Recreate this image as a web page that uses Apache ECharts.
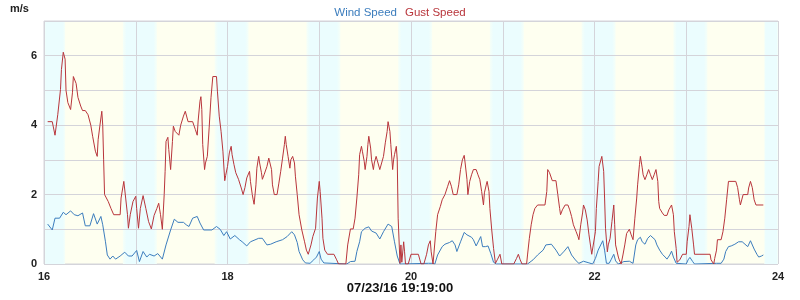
<!DOCTYPE html>
<html><head><meta charset="utf-8">
<script src="https://cdn.jsdelivr.net/npm/echarts@6/dist/echarts.min.js"></script>
<style>html,body{margin:0;padding:0;background:#fff}#c{width:800px;height:300px}</style>
</head><body><div id="c"></div>
<script>
// hours (decimal) of each reading, and values in m/s
const windTimes=[16.04,16.09,16.12,16.17,16.21,16.24,16.29,16.33,16.37,16.42,16.45,16.50,16.54,16.58,16.62,16.64,16.67,16.69,16.72,16.75,16.78,16.83,16.88,16.92,16.96,17.01,17.04,17.08,17.12,17.15,17.20,17.24,17.29,17.33,17.38,17.42,17.46,17.52,17.55,17.58,17.62,17.67,17.70,17.74,17.83,17.88,17.92,17.96,17.99,18.03,18.08,18.13,18.16,18.21,18.25,18.34,18.38,18.43,18.47,18.53,18.60,18.65,18.70,18.73,18.76,18.78,18.82,18.85,18.90,18.94,18.97,19.00,19.02,19.05,19.06,19.30,19.34,19.39,19.41,19.44,19.46,19.50,19.54,19.57,19.62,19.66,19.70,19.75,19.79,19.82,19.85,19.88,20.19,20.23,20.26,20.29,20.34,20.37,20.42,20.45,20.48,20.50,20.54,20.58,20.61,20.66,20.68,20.71,20.76,20.78,20.81,20.84,20.87,20.90,20.93,21.27,21.33,21.38,21.44,21.47,21.53,21.58,21.62,21.67,21.71,21.75,21.80,21.83,21.88,21.93,21.98,22.01,22.04,22.09,22.11,22.13,22.16,22.18,22.21,22.23,22.26,22.32,22.38,22.40,22.42,22.45,22.47,22.50,22.52,22.55,22.58,22.61,22.63,22.66,22.68,22.71,22.74,22.77,22.79,22.82,22.84,22.86,22.89,22.90,23.00,23.02,23.04,23.07,23.09,23.33,23.38,23.41,23.43,23.46,23.49,23.53,23.57,23.61,23.64,23.67,23.70,23.74,23.77,23.79,23.82,23.84];
const windValues=[1.15,0.98,1.32,1.32,1.49,1.42,1.53,1.42,1.39,1.47,1.1,1.1,1.45,1.15,1.37,1.13,0.64,0.26,0.14,0.23,0.14,0.23,0.34,0.23,0.23,0.39,0.07,0.36,0.2,0.28,0.23,0.3,0.14,0.55,0.98,1.29,1.2,1.2,1.13,1.08,1.32,1.37,1.18,0.98,0.98,1.08,1.0,0.82,0.93,0.72,0.82,0.7,0.64,0.52,0.64,0.74,0.74,0.55,0.57,0.64,0.7,0.79,0.93,0.84,0.62,0.36,0.12,0.03,0.02,0.12,0.2,0.36,0.14,0.03,0,0,0.07,0.08,0.36,0.64,0.93,1.03,1.07,0.95,0.89,0.72,0.93,1.15,1.08,0.64,0.23,0,0.02,0.02,0,0.26,0.5,0.57,0.62,0.67,0.55,0.36,0.64,0.91,0.84,0.77,0.7,0.52,0.79,0.5,0.5,0.52,0.3,0.05,0,0,0.12,0.26,0.4,0.55,0.57,0.4,0.23,0.37,0.5,0.26,0.09,0.02,0.08,0.04,0,0.16,0.4,0.67,0.4,0.02,0.02,0.12,0.28,0.09,0,0.07,0.08,0.04,0.02,0.55,0.7,0.77,0.64,0.57,0.74,0.82,0.86,0.7,0.55,0.4,0.28,0.2,0.14,0.26,0.37,0.2,0.02,0,0,0.12,0.19,0.07,0,0.02,0.02,0.14,0.36,0.5,0.52,0.57,0.64,0.64,0.57,0.5,0.67,0.43,0.28,0.2,0.23,0.26];
const gustTimes=[16.04,16.09,16.12,16.15,16.18,16.19,16.21,16.23,16.24,16.26,16.29,16.31,16.32,16.35,16.37,16.40,16.42,16.45,16.48,16.51,16.53,16.56,16.58,16.59,16.61,16.63,16.64,16.65,16.66,16.70,16.73,16.76,16.83,16.84,16.87,16.89,16.91,16.92,16.94,16.97,17.00,17.01,17.03,17.05,17.08,17.11,17.14,17.17,17.20,17.23,17.25,17.27,17.29,17.31,17.32,17.33,17.35,17.36,17.38,17.40,17.41,17.43,17.45,17.47,17.49,17.52,17.54,17.57,17.62,17.65,17.67,17.68,17.70,17.71,17.72,17.73,17.75,17.76,17.78,17.80,17.82,17.84,17.88,17.89,17.91,17.93,17.95,17.97,17.98,18.00,18.02,18.04,18.05,18.07,18.09,18.12,18.15,18.17,18.19,18.21,18.24,18.25,18.27,18.28,18.29,18.31,18.32,18.34,18.35,18.37,18.38,18.40,18.43,18.45,18.46,18.48,18.49,18.51,18.54,18.56,18.58,18.60,18.62,18.63,18.64,18.66,18.68,18.69,18.71,18.73,18.74,18.76,18.78,18.81,18.84,18.86,18.88,18.91,18.93,18.96,18.98,19.00,19.01,19.03,19.04,19.06,19.09,19.16,19.19,19.21,19.29,19.31,19.34,19.37,19.39,19.41,19.43,19.44,19.46,19.47,19.49,19.50,19.52,19.53,19.54,19.56,19.57,19.59,19.60,19.62,19.64,19.66,19.68,19.70,19.72,19.74,19.75,19.77,19.78,19.80,19.81,19.82,19.84,19.85,19.86,19.88,19.89,19.90,19.92,19.93,19.94,19.97,20.00,20.08,20.11,20.14,20.17,20.19,20.21,20.22,20.24,20.26,20.27,20.29,20.32,20.34,20.37,20.40,20.42,20.44,20.46,20.50,20.52,20.54,20.56,20.58,20.59,20.61,20.62,20.64,20.66,20.68,20.71,20.73,20.75,20.77,20.79,20.80,20.82,20.83,20.85,20.86,20.88,20.90,20.92,20.94,20.97,20.99,21.12,21.15,21.17,21.19,21.21,21.26,21.27,21.29,21.31,21.33,21.35,21.38,21.46,21.48,21.49,21.51,21.54,21.58,21.60,21.62,21.63,21.65,21.68,21.71,21.73,21.75,21.77,21.80,21.82,21.83,21.85,21.87,21.88,21.90,21.92,21.94,21.97,21.99,22.01,22.02,22.04,22.05,22.07,22.08,22.10,22.11,22.12,22.14,22.15,22.17,22.19,22.21,22.22,22.23,22.26,22.27,22.29,22.31,22.33,22.35,22.38,22.40,22.42,22.44,22.46,22.47,22.49,22.50,22.52,22.53,22.55,22.57,22.59,22.61,22.63,22.65,22.67,22.69,22.70,22.71,22.74,22.76,22.79,22.81,22.84,22.86,22.87,22.89,22.90,22.92,22.93,22.96,23.00,23.01,23.03,23.04,23.06,23.08,23.09,23.26,23.27,23.30,23.31,23.33,23.34,23.38,23.40,23.42,23.44,23.46,23.54,23.56,23.58,23.59,23.62,23.67,23.68,23.70,23.72,23.74,23.76,23.84];
const gustValues=[4.1,4.1,3.71,4.3,5.03,5.6,6.1,5.9,5.0,4.65,4.45,4.93,5.4,5.2,4.8,4.55,4.42,4.42,4.3,4.0,3.68,3.25,3.1,3.58,4.0,4.4,4.0,3.0,2.0,1.8,1.6,1.42,1.42,1.9,2.38,1.9,1.42,1.03,1.42,1.8,1.95,1.6,1.03,1.6,1.97,1.6,1.22,1.01,1.4,1.6,1.75,1.42,1.0,2.0,2.67,3.53,3.65,3.3,2.72,3.53,3.97,3.82,3.8,3.71,4.0,4.26,4.4,4.1,4.1,3.87,3.71,4.12,4.69,4.82,4.45,3.44,2.72,2.91,3.1,3.92,4.79,5.4,5.4,4.98,4.26,3.82,3.25,2.4,2.55,2.81,3.2,3.39,3.15,2.87,2.63,2.44,2.19,2.0,2.2,2.48,2.67,2.38,2.0,1.85,1.72,2.28,2.76,3.1,2.91,2.63,2.44,2.58,2.81,3.05,3.1,2.72,2.28,2.0,2.0,2.33,2.67,3.05,3.44,3.68,3.44,3.1,2.76,3.0,3.1,2.91,2.53,2.0,1.42,0.98,0.64,0.4,0.28,0.55,0.79,1.03,1.9,2.38,2.09,1.32,0.74,0.4,0.28,0.28,0.12,0,0,0.55,1.01,1.01,1.32,1.9,2.57,3.15,3.39,3.25,2.96,2.72,3.1,3.44,3.68,3.34,3.0,2.72,2.91,3.1,2.91,2.72,2.91,3.1,3.49,3.82,4.1,3.82,3.44,2.72,3.0,3.15,3.39,3.0,1.32,0.02,0.55,0.05,0.64,0.35,0,0,0.28,0.28,0,0,0.28,0.55,0.67,0.35,0,0,0.93,1.42,1.66,1.85,2.0,2.24,2.4,2.24,2.0,2.0,2.28,2.72,3.0,3.13,2.91,2.44,2.0,2.38,2.57,2.72,2.72,2.57,2.43,2.09,1.7,2.05,2.28,2.38,2.09,1.6,0.98,0.45,0.02,0.12,0.28,0,0,0.16,0.28,0.12,0,0,0.26,0.74,1.13,1.42,1.6,1.7,1.7,2.09,2.72,2.63,2.4,2.4,2.0,1.6,1.42,1.56,1.7,1.7,1.56,1.37,1.13,0.93,0.79,0.7,1.13,1.47,1.7,1.56,1.27,0.84,0.28,0.28,0.93,1.6,2.38,2.81,2.77,3.1,2.67,1.9,1.03,0.35,0.55,0.74,1.22,1.7,1.13,0.55,0.2,0.12,0,0.26,0.55,0.88,1.0,0.84,0.7,1.32,1.9,2.28,2.86,3.1,2.77,2.57,2.43,2.57,2.72,2.57,2.43,2.57,2.72,2.38,1.8,1.6,1.47,1.4,1.4,1.56,1.7,1.42,0.93,0.45,0.05,0,0.12,0.28,0.28,0.64,1.08,1.42,1.03,0.55,0.28,0.28,0.12,0,0.16,0.4,0.7,0.7,0.93,1.32,1.85,2.38,2.38,2.2,1.85,1.7,2.0,2.0,2.19,2.38,2.2,1.85,1.7,1.7];
// background band spans (hours)
const cyanBands=[[16,16.23],[16.86,17.23],[17.86,18.23],[18.86,19.23],[19.86,20.23],[20.86,21.23],[21.86,22.23],[22.86,23.23],[23.85,24]];
const seriesNames=['Wind Speed','Gust Speed'];
const xTitle='07/23/16 19:19:00';
const yUnit='m/s';

const zip=(t,v)=>t.map((x,i)=>[x,v[i]]);
const bandGrad={type:'linear',x:0,y:0,x2:1,y2:0,colorStops:[
  {offset:0,color:'#f6fff7'},{offset:0.1,color:'#ebfdfe'},{offset:0.9,color:'#ebfdfe'},{offset:1,color:'#f6fff7'}]};
const chart=echarts.init(document.getElementById('c'),null,{renderer:'canvas'});
const lbl={color:'#222',fontWeight:'bold',fontSize:11,fontFamily:'Liberation Sans, Arial, sans-serif'};
chart.setOption({
  animation:false,
  backgroundColor:'#fff',
  legend:{data:[{name:seriesNames[0],textStyle:{color:'#3c7dbd'}},{name:seriesNames[1],textStyle:{color:'#b8353b'}}],
    top:1,left:'center',itemWidth:0,itemHeight:14,itemGap:8,icon:'rect',
    textStyle:{fontSize:11.5,fontFamily:'Liberation Sans, Arial, sans-serif',padding:[0,0,0,-5]},selectedMode:false},
  grid:{left:44,right:22,top:21,bottom:36,show:true,backgroundColor:'#fefff0',borderColor:'#d4d4da',borderWidth:1},
  xAxis:{type:'value',min:16,max:24,interval:1,z:2,
    axisLine:{show:false},axisTick:{show:false},
    axisLabel:Object.assign({margin:7,formatter:v=>v%2===0?String(v):''},lbl),
    splitLine:{show:true,lineStyle:{color:'#d4d4da',width:1}}},
  yAxis:{type:'value',min:0,max:7,interval:1,z:2,
    axisLine:{show:false},axisTick:{show:false},
    axisLabel:Object.assign({margin:7,formatter:v=>v%2===0?String(v):''},lbl),
    splitLine:{show:true,lineStyle:{color:'#d4d4da',width:1}}},
  graphic:[
    {type:'text',left:10,top:3,z:10,style:{text:yUnit,fill:'#222',font:'bold 11px "Liberation Sans", Arial, sans-serif'}},
    {type:'text',left:'center',top:282,z:10,style:{text:xTitle,fill:'#111',font:'bold 13px "Liberation Sans", Arial, sans-serif'}}
  ],
  series:[
    {name:'bands',type:'line',data:[],z:1,silent:true,
      markArea:{silent:true,itemStyle:{color:bandGrad},data:cyanBands.map(b=>[{xAxis:b[0]},{xAxis:b[1]}])}},
    {name:seriesNames[0],type:'line',z:3,data:zip(windTimes,windValues),showSymbol:false,
      lineStyle:{color:'#3c7dbd',width:1},itemStyle:{color:'#3c7dbd'}},
    {name:seriesNames[1],type:'line',z:4,data:zip(gustTimes,gustValues),showSymbol:false,
      lineStyle:{color:'#b8353b',width:1},itemStyle:{color:'#b8353b'}}
  ]
});
</script></body></html>
